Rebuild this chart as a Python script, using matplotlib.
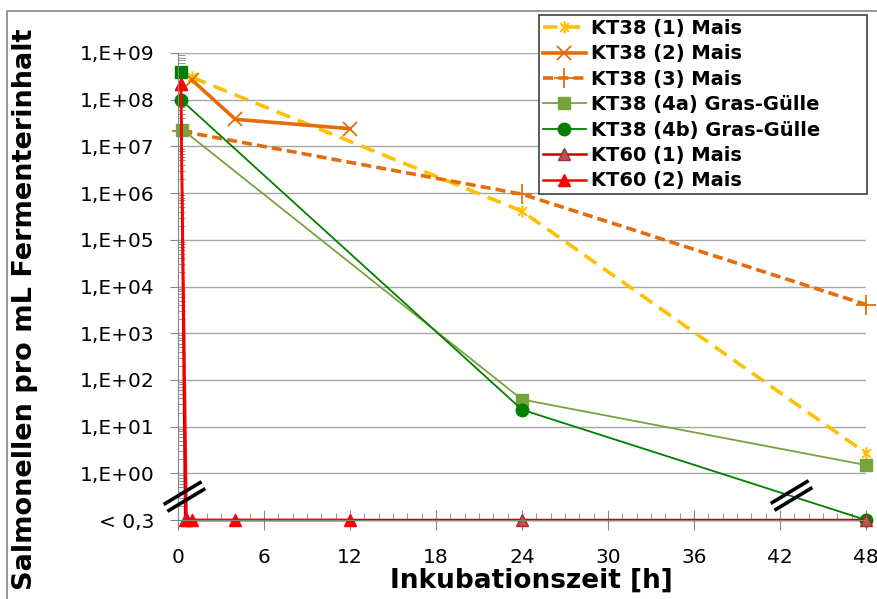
import matplotlib.pyplot as plt
from matplotlib.path import Path
from matplotlib.patches import Rectangle

# "< 0,3" (unter Nachweisgrenze) wird auf der untersten Achsenlinie gezeichnet
nd = 0.1

t_kt38_1 = [1, 24, 48]
v_kt38_1 = [3.0e8, 4.1e5, 2.7]
t_kt38_2 = [1, 4, 12]
v_kt38_2 = [2.6e8, 3.8e7, 2.4e7]
t_kt38_3 = [0.3, 24, 48]
v_kt38_3 = [2.1e7, 9.5e5, 4.1e3]
t_kt38_4a = [0.3, 24, 48]
v_kt38_4a = [2.3e7, 38, 1.5]
t_kt38_4b = [0.2, 24, 48]
v_kt38_4b = [1.0e8, 23, nd]
t_kt38_4b_extra = [0.2]
v_kt38_4b_extra = [4.0e8]
t_kt60_1 = [0.2, 0.5, 24, 48]
v_kt60_1 = [2.2e8, nd, nd, nd]
t_kt60_2 = [0.2, 0.6, 1, 4, 12]
v_kt60_2 = [2.2e8, nd, nd, nd, nd]

ytick_vals = [nd, 1e0, 1e1, 1e2, 1e3, 1e4, 1e5, 1e6, 1e7, 1e8, 1e9]
ytick_labels = ['< 0,3', '1,E+00', '1,E+01', '1,E+02', '1,E+03', '1,E+04',
                '1,E+05', '1,E+06', '1,E+07', '1,E+08', '1,E+09']
xtick_vals = [0, 6, 12, 18, 24, 30, 36, 42, 48]

# Excel-Sternmarker (x mit senkrechtem Strich)
star = Path([(0, -1), (0, 1), (-0.7, -0.7), (0.7, 0.7), (-0.7, 0.7), (0.7, -0.7)],
            [Path.MOVETO, Path.LINETO, Path.MOVETO, Path.LINETO, Path.MOVETO, Path.LINETO])
# Achsenbruch-Zeichen //
brk = Path([(-1.1, -0.42), (0.9, 0.78), (-0.9, -0.78), (1.1, 0.42)],
           [Path.MOVETO, Path.LINETO, Path.MOVETO, Path.LINETO])

fig = plt.figure(figsize=(8.77, 5.99), dpi=100)
ax = fig.add_axes([178 / 877, 79 / 599, 688 / 877, 467 / 599])

ax.plot(t_kt38_1, v_kt38_1, color='#FFC000', lw=2.6, ls=(0, (4, 2.3)), marker=star,
        ms=9, mew=1.5, label='KT38 (1) Mais', clip_on=False)
ax.plot(t_kt38_2, v_kt38_2, color='#E46C0A', lw=2.6, marker='x', ms=10, mew=1.3,
        label='KT38 (2) Mais', clip_on=False)
ax.plot(t_kt38_3, v_kt38_3, color='#E46C0A', lw=2.6, ls=(0, (2.8, 1.4)), marker='+',
        ms=14, mew=1.3, label='KT38 (3) Mais', clip_on=False)
ax.plot(t_kt38_4a, v_kt38_4a, color='#77A33C', lw=1.3, marker='s', ms=9,
        label='KT38 (4a) Gras-Gülle', clip_on=False)
ax.plot(t_kt38_4b, v_kt38_4b, color='#008000', lw=1.3, marker='o', ms=9,
        label='KT38 (4b) Gras-Gülle', clip_on=False)
ax.plot(t_kt60_1, v_kt60_1, color='#C00000', lw=1.8, marker='^', ms=8,
        mfc='#C0504D', mec='#A03030', label='KT60 (1) Mais', clip_on=False)
ax.plot(t_kt60_2, v_kt60_2, color='#FF0000', lw=1.8, marker='^', ms=8,
        label='KT60 (2) Mais', clip_on=False)
ax.plot(t_kt38_4b_extra, v_kt38_4b_extra, ls='none', color='#008000', marker='s', ms=9,
        clip_on=False)

# Achsenbrüche
ax.plot([0.42, 42.8], [0.32, 0.34], ls='none', marker=brk, ms=30, mew=2.6,
        color='black', clip_on=False, zorder=5)

ax.set_yscale('log')
ax.set_ylim(nd, 1e9)
ax.set_xlim(0, 48)
ax.set_yticks(ytick_vals)
ax.set_yticklabels(ytick_labels)
ax.set_xticks(xtick_vals)
ax.set_xticks(range(0, 49), minor=True)

ax.tick_params(axis='y', which='major', direction='out', length=6, color='#868686',
               labelsize=14.5, pad=11)
ax.tick_params(axis='y', which='minor', direction='in', length=5, color='#868686')
ax.tick_params(axis='x', which='major', direction='inout', length=14, color='#868686',
               labelsize=14.5, pad=13)
ax.tick_params(axis='x', which='minor', direction='in', length=5, color='#868686')

for v in ytick_vals[1:]:
    ax.axhline(v, color='#A6A6A6', lw=1, zorder=0)

for s in ['top', 'right']:
    ax.spines[s].set_visible(False)
ax.spines['left'].set_color('#868686')
ax.spines['bottom'].set_color('#868686')

ax.set_xlabel('Inkubationszeit [h]', fontsize=19, fontweight='bold')
ax.xaxis.set_label_coords(0.513, -0.103)
ax.xaxis.label.set_va('top')
ax.set_ylabel('Salmonellen pro mL Fermenterinhalt', fontsize=19.5, fontweight='bold')
ax.yaxis.set_label_coords(-0.2035, 0.452)

leg = ax.legend(loc='upper left',
                bbox_to_anchor=(539 / 877, 1 - 195 / 599, 328 / 877, 180 / 599),
                bbox_transform=fig.transFigure, mode='expand', borderaxespad=0,
                fancybox=False, framealpha=1, edgecolor='#404040',
                prop={'size': 14, 'weight': 'bold'}, handlelength=2.2,
                handletextpad=0.25, labelspacing=0.33, borderpad=0.2)
leg.get_frame().set_linewidth(1.2)

fig.patches.append(Rectangle((7 / 877, -0.1), 1.2, 1.1 - 11 / 599, transform=fig.transFigure,
                             fill=False, edgecolor='#868686', lw=1.2))

fig.savefig('out.png', dpi=100)
